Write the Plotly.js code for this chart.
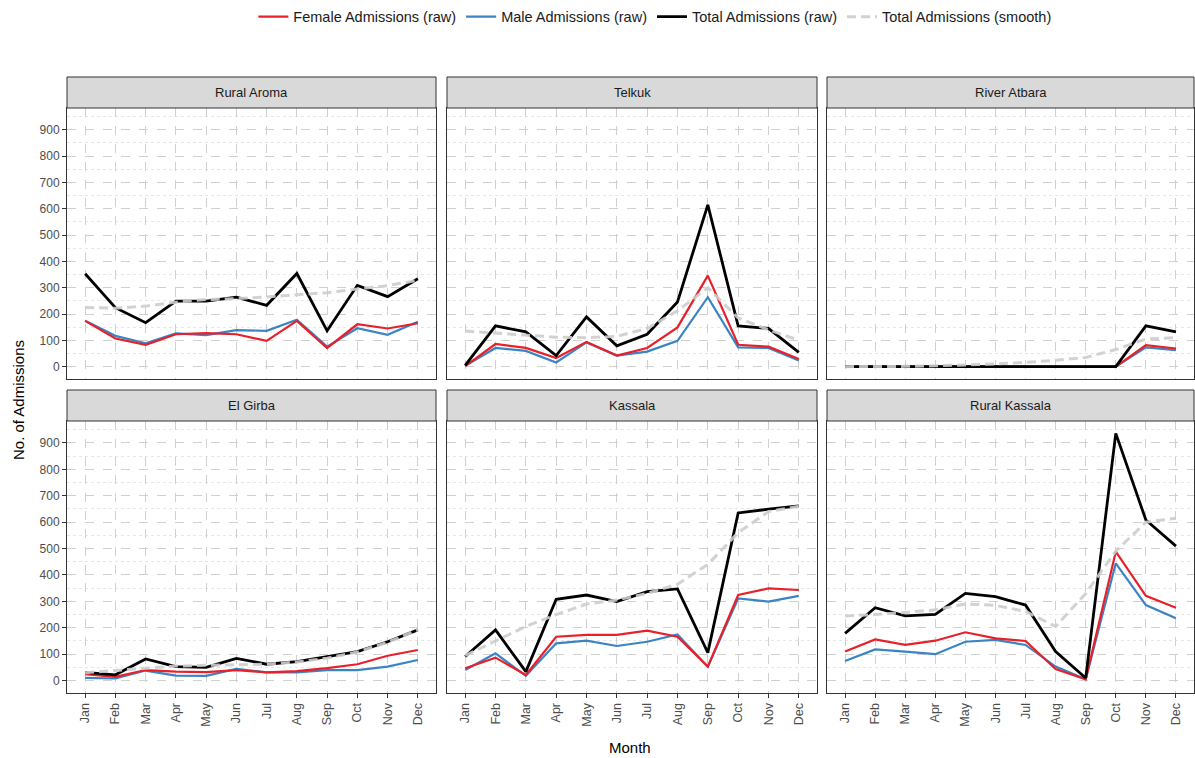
<!DOCTYPE html>
<html>
<head>
<meta charset="utf-8">
<script src="https://cdn.plot.ly/plotly-3.0.1.min.js"></script>
<style>html,body{margin:0;padding:0;background:#fff;}#chart{width:1195px;height:758px;}</style>
</head>
<body>
<div id="chart"></div>
<script>
const months = ['Jan','Feb','Mar','Apr','May','Jun','Jul','Aug','Sep','Oct','Nov','Dec'];
const districts = ['Rural Aroma','Telkuk','River Atbara','El Girba','Kassala','Rural Kassala'];
const yTicks = [0,100,200,300,400,500,600,700,800,900];

const femaleRuralAroma = [174,107,83,123,127,123,98,174,71,161,145,165];
const maleRuralAroma   = [174,117,89,126,120,139,136,178,76,146,121,171];
const totalRuralAroma  = [353,224,167,249,249,264,233,354,136,309,266,334];
const smoothRuralAroma = [225,222,230,245,255,258,265,272,281,295,308,328];

const femaleTelkuk = [2,86,71,33,94,42,71,149,346,83,76,29];
const maleTelkuk   = [3,71,60,16,92,42,57,98,264,73,71,23];
const totalTelkuk  = [5,155,132,42,189,79,123,246,615,155,145,54];
const smoothTelkuk = [135,128,120,112,110,115,145,212,300,185,140,100];

const femaleRiverAtbara = [0,0,0,0,0,0,0,0,0,0,82,69];
const maleRiverAtbara   = [0,0,0,0,0,0,0,0,0,0,73,63];
const totalRiverAtbara  = [0,0,0,0,0,0,0,0,0,0,155,132];
const smoothRiverAtbara = [0,0,1,3,6,10,16,24,35,65,105,110];

const femaleElGirba = [24,14,40,34,32,40,31,36,47,62,94,116];
const maleElGirba   = [10,8,38,19,18,44,31,31,40,40,53,78];
const totalElGirba  = [31,22,82,53,50,84,62,72,91,110,147,192];
const smoothElGirba = [30,38,48,55,58,60,62,70,85,108,145,192];

const femaleKassala = [47,87,21,166,173,173,189,166,53,324,349,343];
const maleKassala   = [40,103,18,141,151,131,147,175,52,311,299,321];
const totalKassala  = [91,192,34,308,324,299,337,347,106,635,649,662];
const smoothKassala = [95,150,205,250,290,305,330,365,440,560,640,660];

const femaleRuralKassala = [110,156,135,151,183,160,150,44,5,488,321,276];
const maleRuralKassala   = [74,118,110,100,147,154,135,53,5,444,286,236];
const totalRuralKassala  = [179,276,245,251,330,318,286,110,10,936,608,509];
const smoothRuralKassala = [245,250,258,268,290,285,262,205,330,490,600,615];

const panelData = [
  [femaleRuralAroma, maleRuralAroma, totalRuralAroma, smoothRuralAroma],
  [femaleTelkuk, maleTelkuk, totalTelkuk, smoothTelkuk],
  [femaleRiverAtbara, maleRiverAtbara, totalRiverAtbara, smoothRiverAtbara],
  [femaleElGirba, maleElGirba, totalElGirba, smoothElGirba],
  [femaleKassala, maleKassala, totalKassala, smoothKassala],
  [femaleRuralKassala, maleRuralKassala, totalRuralKassala, smoothRuralKassala]
];

const W = 1195, H = 758;
const colPx = [[67,436],[447,817],[827,1194]];
const rowPx = [[108,379],[421,693]];
const stripPx = [[77,108],[390,421]];

const RED = '#E8202A', BLUE = '#3B84C4', BLACK = '#000000', GREY = '#CDCDCD';
const fontFam = 'Arial, "Liberation Sans", Helvetica, sans-serif';

const traces = [];
const layout = {
  width: W, height: H,
  margin: {l:0, r:0, t:0, b:0},
  paper_bgcolor: '#fff', plot_bgcolor: '#fff',
  font: {family: fontFam, color: '#1a1a1a', size: 12},
  showlegend: true,
  legend: {orientation: 'h', x: 0.548, xanchor: 'center', y: 0.999, yanchor: 'top',
           font: {size: 14.5, color: '#1a1a1a'}, itemwidth: 30, traceorder: 'normal',
           tracegroupgap: 0, bgcolor: 'rgba(0,0,0,0)'},
  shapes: [], annotations: []
};

districts.forEach((name, i) => {
  const row = Math.floor(i / 3), col = i % 3;
  const k = i === 0 ? '' : String(i + 1);
  const xa = 'x' + k, ya = 'y' + k;
  const [f, m, t, s] = panelData[i];
  const first = i === 0;
  traces.push({x: months, y: m, xaxis: xa, yaxis: ya, type: 'scatter', mode: 'lines',
    name: 'Male Admissions (raw)', legendgroup: 'm', legendrank: 2, showlegend: first,
    line: {color: BLUE, width: 2.2}, hoverinfo: 'skip'});
  traces.push({x: months, y: f, xaxis: xa, yaxis: ya, type: 'scatter', mode: 'lines',
    name: 'Female Admissions (raw)', legendgroup: 'f', legendrank: 1, showlegend: first,
    line: {color: RED, width: 2.2}, hoverinfo: 'skip'});
  traces.push({x: months, y: t, xaxis: xa, yaxis: ya, type: 'scatter', mode: 'lines',
    name: 'Total Admissions (raw)', legendgroup: 't', legendrank: 3, showlegend: first,
    line: {color: BLACK, width: 2.8}, hoverinfo: 'skip'});
  traces.push({x: months, y: s, xaxis: xa, yaxis: ya, type: 'scatter', mode: 'lines',
    name: 'Total Admissions (smooth)', legendgroup: 's', legendrank: 4, showlegend: first,
    line: {color: GREY, width: 3, dash: '9px,5px'}, opacity: 0.9, hoverinfo: 'skip'});

  const xd = [colPx[col][0] / W, colPx[col][1] / W];
  const yd = [(H - rowPx[row][1]) / H, (H - rowPx[row][0]) / H];
  const bottom = row === 1, left = col === 0;
  layout['xaxis' + k] = {
    domain: xd, anchor: ya, type: 'category', categoryorder: 'array', categoryarray: months,
    range: [-0.6, 11.6], showgrid: true, gridcolor: '#D0D0D0', griddash: 'dash', gridwidth: 1,
    zeroline: false, showline: true, mirror: true, linecolor: '#333333', linewidth: 1,
    ticks: bottom ? 'outside' : '', ticklen: 4, tickcolor: '#333333',
    showticklabels: bottom, tickangle: -90,
    tickfont: {size: 12.5, color: '#4d4d4d', family: fontFam}
  };
  layout['yaxis' + k] = {
    domain: yd, anchor: xa, range: [-47, 983], tickmode: 'array', tickvals: yTicks,
    ticktext: yTicks.map(String),
    showgrid: true, gridcolor: '#D0D0D0', griddash: 'dash', gridwidth: 1,
    minor: {tickmode: 'linear', tick0: 50, dtick: 100, showgrid: true, gridcolor: '#E6E6E6', griddash: 'dot', ticks: ''},
    zeroline: false, showline: true, mirror: true, linecolor: '#333333', linewidth: 1,
    ticks: left ? 'outside' : '', ticklen: 4, tickcolor: '#333333',
    showticklabels: left, tickfont: {size: 12, color: '#4d4d4d', family: fontFam}
  };
  const sy = [(H - stripPx[row][1]) / H, (H - stripPx[row][0]) / H];
  layout.shapes.push({type: 'rect', xref: 'paper', yref: 'paper', x0: xd[0], x1: xd[1], y0: sy[0], y1: sy[1],
    fillcolor: '#D9D9D9', line: {color: '#333333', width: 1}, layer: 'above'});
  layout.annotations.push({xref: 'paper', yref: 'paper', x: (xd[0] + xd[1]) / 2, y: (sy[0] + sy[1]) / 2,
    text: name, showarrow: false, xanchor: 'center', yanchor: 'middle',
    font: {size: 13, color: '#1a1a1a', family: fontFam}});
});

layout.annotations.push({xref: 'paper', yref: 'paper', x: 18 / W, y: (H - 400) / H,
  text: 'No. of Admissions', textangle: -90, showarrow: false, xanchor: 'center', yanchor: 'middle',
  font: {size: 15, color: '#000', family: fontFam}});
layout.annotations.push({xref: 'paper', yref: 'paper', x: 630 / W, y: (H - 747) / H,
  text: 'Month', showarrow: false, xanchor: 'center', yanchor: 'middle',
  font: {size: 15, color: '#000', family: fontFam}});

Plotly.newPlot('chart', traces, layout, {displayModeBar: false, staticPlot: true});
</script>
</body>
</html>
